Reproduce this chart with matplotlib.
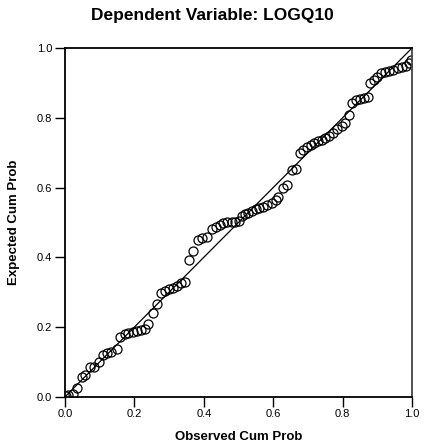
import matplotlib.pyplot as plt

plt.rcParams['font.family'] = ['Liberation Sans', 'DejaVu Sans']

# P-P plot values
observed_cum = [0.003, 0.010, 0.022, 0.034, 0.048, 0.059, 0.072, 0.084, 0.098, 0.110,
                0.122, 0.134, 0.149, 0.160, 0.172, 0.183, 0.195, 0.207, 0.218, 0.230,
                0.240, 0.253, 0.264, 0.276, 0.288, 0.300, 0.312, 0.324, 0.334, 0.346,
                0.357, 0.368, 0.384, 0.396, 0.408, 0.423, 0.435, 0.447, 0.456, 0.468,
                0.480, 0.490, 0.502, 0.509, 0.519, 0.528, 0.538, 0.550, 0.560, 0.571,
                0.583, 0.596, 0.607, 0.615, 0.627, 0.639, 0.653, 0.666, 0.677, 0.687,
                0.698, 0.708, 0.718, 0.729, 0.740, 0.750, 0.762, 0.773, 0.785, 0.797,
                0.807, 0.819, 0.826, 0.839, 0.850, 0.862, 0.872, 0.879, 0.890, 0.900,
                0.911, 0.922, 0.934, 0.946, 0.958, 0.970, 0.982, 0.990, 0.998]
expected_cum = [0.004, 0.006, 0.009, 0.025, 0.058, 0.062, 0.085, 0.087, 0.100, 0.120,
                0.125, 0.129, 0.137, 0.172, 0.179, 0.184, 0.186, 0.189, 0.193, 0.196,
                0.209, 0.241, 0.266, 0.299, 0.304, 0.308, 0.311, 0.318, 0.326, 0.330,
                0.393, 0.419, 0.450, 0.455, 0.458, 0.480, 0.488, 0.493, 0.499, 0.502,
                0.501, 0.502, 0.503, 0.517, 0.524, 0.528, 0.534, 0.538, 0.541, 0.545,
                0.550, 0.557, 0.564, 0.572, 0.598, 0.607, 0.650, 0.652, 0.700, 0.708,
                0.715, 0.721, 0.727, 0.732, 0.736, 0.741, 0.748, 0.756, 0.767, 0.777,
                0.786, 0.808, 0.841, 0.851, 0.854, 0.856, 0.860, 0.899, 0.908, 0.918,
                0.927, 0.932, 0.934, 0.937, 0.942, 0.945, 0.948, 0.956, 0.966]
ticks = [0.0, 0.2, 0.4, 0.6, 0.8, 1.0]
tick_labels = ['0.0', '0.2', '0.4', '0.6', '0.8', '1.0']

fig = plt.figure(figsize=(4.24, 4.48), dpi=100)
ax = fig.add_axes([0.153, 0.114, 0.819, 0.779])

ax.plot([0, 1], [0, 1], color='black', linewidth=0.9)
ax.plot(observed_cum, expected_cum, linestyle='none', marker='o', markersize=6.5,
        markerfacecolor='none', markeredgecolor='black', markeredgewidth=0.9)

ax.set_xlim(0, 1)
ax.set_ylim(0, 1)
ax.set_xticks(ticks)
ax.set_xticklabels(tick_labels)
ax.set_yticks(ticks)
ax.set_yticklabels(tick_labels)
ax.tick_params(direction='out', length=7, width=1, labelsize=8, pad=2)

for side in ['left', 'bottom', 'top']:
    ax.spines[side].set_linewidth(1.3)
ax.spines['right'].set_linewidth(1.3)
ax.spines['right'].set_color('#444444')

fig.text(0.5, 0.966, 'Dependent Variable: LOGQ10', ha='center', va='center',
         fontsize=12.5, fontweight='bold')
ax.set_xlabel('Observed Cum Prob', fontsize=9.5, fontweight='bold', labelpad=8)
ax.set_ylabel('Expected Cum Prob', fontsize=9.5, fontweight='bold', labelpad=12)

fig.savefig('out.png', dpi=100)
